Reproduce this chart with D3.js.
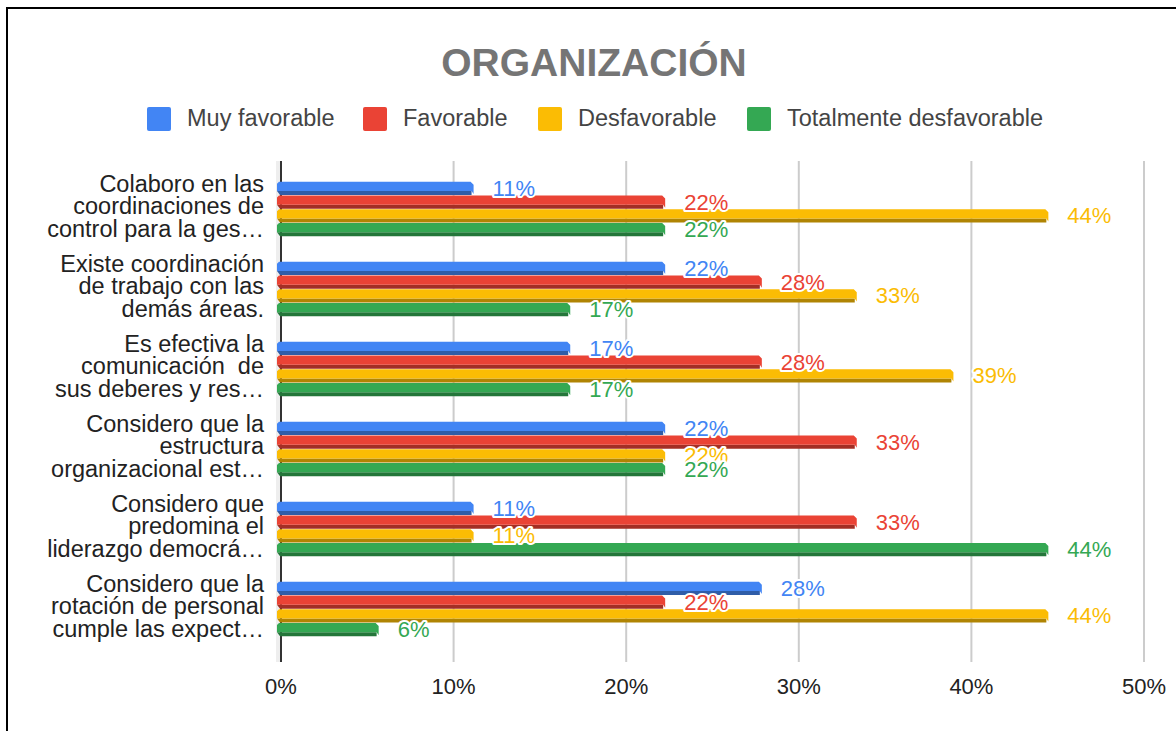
<!DOCTYPE html>
<html>
<head>
<meta charset="utf-8">
<script src="https://cdn.jsdelivr.net/npm/d3@7"></script>
<style>
  body { margin: 0; background: #fff; }
  svg { display: block; font-family: "Liberation Sans", Arial, sans-serif; }
</style>
</head>
<body>
<div id="chart"></div>
<script>
// chart data
var categories = [
  ["Colaboro en las", "coordinaciones de", "control para la ges…"],
  ["Existe coordinación", "de trabajo con las", "demás áreas."],
  ["Es efectiva la", "comunicación  de", "sus deberes y res…"],
  ["Considero que la", "estructura", "organizacional est…"],
  ["Considero que", "predomina el", "liderazgo democrá…"],
  ["Considero que la", "rotación de personal", "cumple las expect…"]
];
var seriesNames = ["Muy favorable", "Favorable", "Desfavorable", "Totalmente desfavorable"];
var muyFavorable = [11.1, 22.2, 16.7, 22.2, 11.1, 27.8];
var favorable = [22.2, 27.8, 27.8, 33.3, 33.3, 22.2];
var desfavorable = [44.4, 33.3, 38.9, 22.2, 11.1, 44.4];
var totalDesfavorable = [22.2, 16.7, 16.7, 22.2, 44.4, 5.6];
var xTicks = [0, 10, 20, 30, 40, 50];

var colors = ["#4285f4", "#ea4335", "#fbbc04", "#34a853"];
var darkColors = ["#2f5da8", "#a32f25", "#b08403", "#24763a"];
var series = [muyFavorable, favorable, desfavorable, totalDesfavorable];

var width = 1176, height = 731;
var svg = d3.select("#chart").append("svg")
  .attr("width", width).attr("height", height);

// frame
svg.append("rect").attr("x", 7).attr("y", 8).attr("width", 1200).attr("height", 760)
  .attr("fill", "#fff").attr("stroke", "#000").attr("stroke-width", 2);

// title
svg.append("text").attr("x", 594).attr("y", 76).attr("text-anchor", "middle")
  .attr("font-size", 39).attr("font-weight", "bold").attr("fill", "#757575")
  .text("ORGANIZACIÓN");

// legend
var legendX = [147, 363, 538, 747];
var legend = svg.append("g");
seriesNames.forEach(function(name, i){
  legend.append("rect").attr("x", legendX[i]).attr("y", 107).attr("width", 24).attr("height", 24)
    .attr("rx", 2).attr("fill", colors[i]);
  legend.append("text").attr("x", legendX[i] + 40).attr("y", 126)
    .attr("font-size", 23.5).attr("fill", "#444").text(name);
});

// scales
var x = d3.scaleLinear().domain([0, 50]).range([281, 1144]);
var y = d3.scaleBand().domain(d3.range(categories.length)).range([169, 649]).paddingInner(0.32).paddingOuter(0.16);
var inner = d3.scaleBand().domain(d3.range(series.length)).range([0, y.bandwidth()]).paddingInner(0.05);

// light band next to the zero line
svg.append("rect").attr("x", 276).attr("y", 161).attr("width", 5).attr("height", 501).attr("fill", "#eeeeee");

// gridlines
svg.append("g").selectAll("line").data(xTicks.slice(1)).join("line")
  .attr("x1", d => x(d)).attr("x2", d => x(d))
  .attr("y1", 161).attr("y2", 662)
  .attr("stroke", "#cccccc").attr("stroke-width", 2);

// x axis labels
svg.append("g").selectAll("text").data(xTicks).join("text")
  .attr("x", d => x(d)).attr("y", 694).attr("text-anchor", "middle")
  .attr("font-size", 22).attr("fill", "#222").text(d => d + "%");

// zero line
svg.append("line").attr("x1", x(0)).attr("x2", x(0)).attr("y1", 161).attr("y2", 662)
  .attr("stroke", "#333").attr("stroke-width", 2);

// category labels
var catG = svg.append("g");
categories.forEach(function(lines, i){
  var cy = y(i) + y.bandwidth() / 2;
  lines.forEach(function(line, j){
    catG.append("text").attr("x", 264).attr("y", cy + (j - 1) * 22.5 + 5)
      .attr("text-anchor", "end").attr("font-size", 23.5).attr("fill", "#222")
      .attr("xml:space", "preserve").text(line);
  });
});

// bars with small 3D shading
var bars = svg.append("g");
var labels = svg.append("g");
var depth = 4;
series.forEach(function(vals, s){
  vals.forEach(function(v, i){
    var top = y(i) + inner(s);
    var h = inner.bandwidth();
    var x0 = x(0) - 4, x1 = x(v);
    var face = h - depth;
    // dark bottom side
    bars.append("path")
      .attr("d", "M" + x0 + "," + (top + face) + "L" + (x1 - 1) + "," + (top + face) +
        "L" + (x1 - 1) + "," + (top + h) + "L" + (x0 + 3) + "," + (top + h) + "Z")
      .attr("fill", darkColors[s]);
    // front face with bevelled right end
    bars.append("path")
      .attr("d", "M" + (x0 + 2) + "," + top + "L" + (x1 - 2) + "," + top +
        "L" + (x1 + 1) + "," + (top + 3) + "L" + (x1 + 1) + "," + (top + h - 1) +
        "L" + (x1 - 1) + "," + (top + face) + "L" + x0 + "," + (top + face) +
        "L" + x0 + "," + (top + 2) + "Z")
      .attr("fill", colors[s]);
    labels.append("text").attr("x", x1 + 20).attr("y", top + h / 2 + 7.5)
      .attr("font-size", 22).attr("fill", colors[s])
      .attr("stroke", "#fff").attr("stroke-width", 4).attr("paint-order", "stroke")
      .attr("stroke-linejoin", "round")
      .text(Math.round(v) + "%");
  });
});
</script>
</body>
</html>
